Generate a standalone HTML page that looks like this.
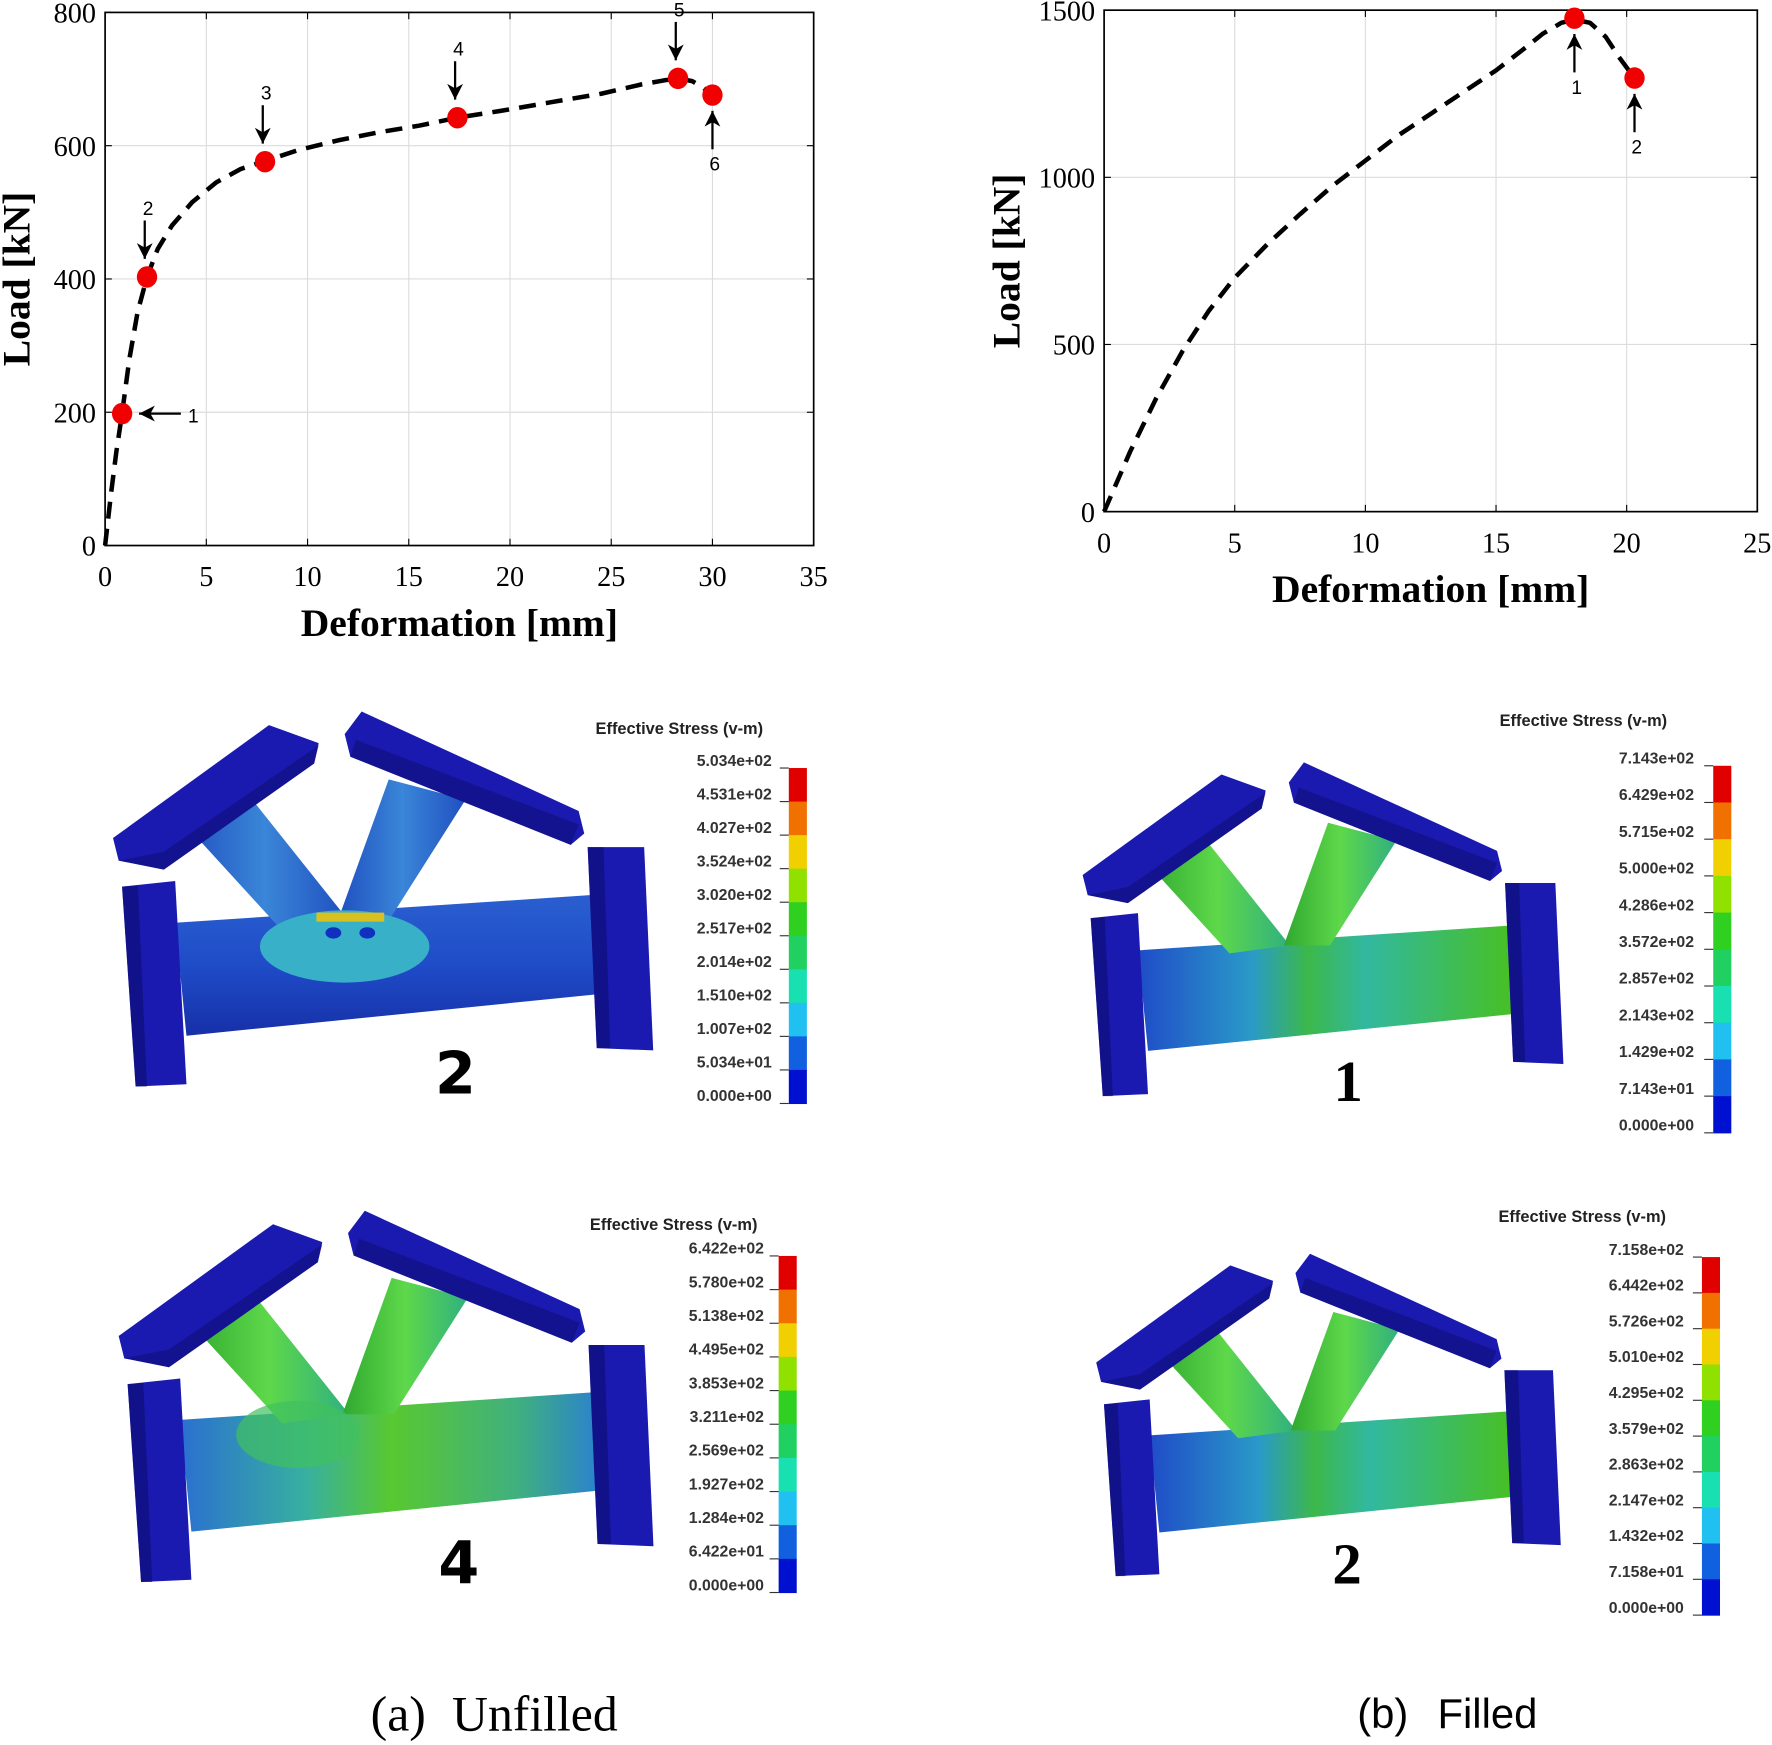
<!DOCTYPE html>
<html><head><meta charset="utf-8"><style>
html,body{margin:0;padding:0;background:#fff;}
svg{display:block;}
</style></head><body>
<svg id="root" width="1772" height="1745" viewBox="0 0 1568 1545" preserveAspectRatio="none" xmlns="http://www.w3.org/2000/svg">
<defs>
<linearGradient id="tubeA" x1="0" y1="0" x2="0" y2="1"><stop offset="0" stop-color="#2a5fd0"/><stop offset="0.5" stop-color="#1f4cc8"/><stop offset="1" stop-color="#1630a8"/></linearGradient>
<linearGradient id="braceA" x1="0" y1="0" x2="1" y2="0"><stop offset="0" stop-color="#2050c0"/><stop offset="0.5" stop-color="#3a86d8"/><stop offset="1" stop-color="#2050c0"/></linearGradient>
<linearGradient id="tubeB" x1="0" y1="0" x2="1" y2="0"><stop offset="0" stop-color="#1f4cc8"/><stop offset="0.3" stop-color="#2a9ac8"/><stop offset="0.45" stop-color="#3cb84a"/><stop offset="0.6" stop-color="#32b8a0"/><stop offset="1" stop-color="#48c020"/></linearGradient>
<linearGradient id="braceB" x1="0" y1="0" x2="1" y2="0"><stop offset="0" stop-color="#30a830"/><stop offset="0.5" stop-color="#5ed84a"/><stop offset="1" stop-color="#30b080"/></linearGradient>
<linearGradient id="tubeC" x1="0" y1="0" x2="1" y2="0"><stop offset="0" stop-color="#2a70d0"/><stop offset="0.3" stop-color="#38b0a0"/><stop offset="0.5" stop-color="#58c830"/><stop offset="0.8" stop-color="#40b080"/><stop offset="1" stop-color="#2a80d0"/></linearGradient>
</defs>
</svg>
<script>
// ===== Chart data =====
const leftX = [0, 0.3, 0.55, 0.84, 1.2, 1.6, 2.07, 2.6, 3.3, 4.3, 5.5, 6.7, 7.9, 9.5, 11.5, 13.5, 15.5, 17.4, 19.5, 22, 24.5, 26.5, 27.6, 28.3, 29.0, 29.5, 30.0];
const leftY = [0, 80, 140, 198, 280, 350, 403, 445, 480, 515, 545, 565, 577, 593, 608, 620, 630, 642, 652, 665, 678, 692, 698, 701, 697, 688, 676];
const leftMarkX = [0.84, 2.07, 7.9, 17.4, 28.3, 30.0];
const leftMarkY = [198, 403, 576, 642, 701, 676];
const leftMarkLabels = ["1","2","3","4","5","6"];
const leftXTicks = [0,5,10,15,20,25,30,35];
const leftYTicks = [0,200,400,600,800];

const rightX = [0, 1, 2, 3, 4, 5, 6.25, 7.5, 8.75, 10, 11.25, 12.5, 13.75, 15, 16, 16.8, 17.5, 18.0, 18.6, 19.2, 19.7, 20.3];
const rightY = [0, 180, 340, 480, 600, 700, 800, 890, 975, 1050, 1125, 1190, 1255, 1320, 1380, 1430, 1462, 1472, 1462, 1420, 1360, 1297];
const rightMarkX = [18.0, 20.3];
const rightMarkY = [1476, 1297];
const rightMarkLabels = ["1","2"];
const rightXTicks = [0,5,10,15,20,25];
const rightYTicks = [0,500,1000,1500];

// colorbar labels
const cbA = ["5.034e+02","4.531e+02","4.027e+02","3.524e+02","3.020e+02","2.517e+02","2.014e+02","1.510e+02","1.007e+02","5.034e+01","0.000e+00"];
const cbB = ["7.143e+02","6.429e+02","5.715e+02","5.000e+02","4.286e+02","3.572e+02","2.857e+02","2.143e+02","1.429e+02","7.143e+01","0.000e+00"];
const cbC = ["6.422e+02","5.780e+02","5.138e+02","4.495e+02","3.853e+02","3.211e+02","2.569e+02","1.927e+02","1.284e+02","6.422e+01","0.000e+00"];
const cbD = ["7.158e+02","6.442e+02","5.726e+02","5.010e+02","4.295e+02","3.579e+02","2.863e+02","2.147e+02","1.432e+02","7.158e+01","0.000e+00"];
const fringeColors = ["#e00000","#f07000","#f0d000","#90e000","#30d020","#20d060","#18e0b0","#20c0f0","#1060e0","#0010d0"];

const NS="http://www.w3.org/2000/svg";
const root=document.getElementById('root');
function mk(tag, attrs, parent){const e=document.createElementNS(NS,tag);for(const k in attrs)e.setAttribute(k,attrs[k]);(parent||root).appendChild(e);return e;}

function chart(cfg){
  const g=mk('g',{});
  
  
  const sx=v=>cfg.x0+(v-cfg.xmin)/(cfg.xmax-cfg.xmin)*(cfg.x1-cfg.x0);
  const sy=v=>cfg.y0-(v-cfg.ymin)/(cfg.ymax-cfg.ymin)*(cfg.y0-cfg.y1);
  cfg.xt.forEach(t=>{
    const l=mk('line',{x1:sx(t),x2:sx(t),y1:cfg.y1,y2:cfg.y0,stroke:'#dcdcdc','stroke-width':1},g);
    
    
    mk('line',{x1:sx(t),x2:sx(t),y1:cfg.y0,y2:cfg.y0-6,stroke:'#000','stroke-width':1},g);
    mk('line',{x1:sx(t),x2:sx(t),y1:cfg.y1,y2:cfg.y1+6,stroke:'#000','stroke-width':1},g);
    const tx=mk('text',{x:sx(t),y:cfg.y0+36,'text-anchor':'middle',style:'font-family:"Liberation Serif",serif;font-size:25px'},g);
    tx.textContent=t;
    
    
  });
  cfg.yt.forEach(t=>{
    const l=mk('line',{x1:cfg.x0,x2:cfg.x1,y1:sy(t),y2:sy(t),stroke:'#dcdcdc','stroke-width':1},g);
    
    
    mk('line',{x1:cfg.x0,x2:cfg.x0+6,y1:sy(t),y2:sy(t),stroke:'#000','stroke-width':1},g);
    mk('line',{x1:cfg.x1,x2:cfg.x1-6,y1:sy(t),y2:sy(t),stroke:'#000','stroke-width':1},g);
    const tx=mk('text',{x:cfg.x0-8,y:sy(t)+9,'text-anchor':'end',style:'font-family:"Liberation Serif",serif;font-size:25px'},g);
    tx.textContent=t;
    
    
  });
  const fr=mk('rect',{x:cfg.x0,y:cfg.y1,width:cfg.x1-cfg.x0,height:cfg.y0-cfg.y1,fill:'none',stroke:'#000','stroke-width':1.5},g);
  
  
  let d='';cfg.xs.forEach((x,i)=>{d+=(i?'L':'M')+sx(x).toFixed(1)+','+sy(cfg.ys[i]).toFixed(1);});
  const p=mk('path',{d:d,fill:'none',stroke:'#000','stroke-width':4,'stroke-dasharray':'15 9','stroke-linejoin':'round'},g);
  
  
  cfg.mx.forEach((x,i)=>{
    const cx=sx(x),cy=sy(cfg.my[i]);
    const c=mk('ellipse',{cx:cx,cy:cy,rx:9,ry:9.5,fill:'#f00000'},g);
    
    
    const dir=cfg.adir[i];
    let ax1,ay1,ax2,ay2,lx,ly;
    if(dir==='left'){ax1=cx+52;ay1=cy;ax2=cx+15;ay2=cy;lx=cx+63;ly=cy+8;}
    else if(dir==='down'){ax1=cx-2;ay1=cy-50;ax2=cx-2;ay2=cy-16;lx=cx+1;ly=cy-55;}
    else {ax1=cx;ay1=cy+48;ax2=cx;ay2=cy+14;lx=cx+2;ly=cy+67;}
    mk('line',{x1:ax1,y1:ay1,x2:ax2,y2:ay2,stroke:'#000','stroke-width':2},g);
    let pts;
    if(dir==='left')pts=`${ax2},${ay2} ${ax2+14},${ay2-7} ${ax2+10},${ay2} ${ax2+14},${ay2+7}`;
    else if(dir==='down')pts=`${ax2},${ay2} ${ax2-7},${ay2-14} ${ax2},${ay2-10} ${ax2+7},${ay2-14}`;
    else pts=`${ax2},${ay2} ${ax2-7},${ay2+14} ${ax2},${ay2+10} ${ax2+7},${ay2+14}`;
    const ar=mk('polygon',{points:pts,fill:'#000'},g);
    
    
    const t=mk('text',{x:lx,y:ly,'text-anchor':'middle',style:'font-family:"Liberation Sans",sans-serif;font-size:17px'},g);
    t.textContent=cfg.ml[i];
    
    
  });
  const xl=mk('text',{x:(cfg.x0+cfg.x1)/2,y:cfg.y0+80,'text-anchor':'middle',style:'font-family:"Liberation Serif",serif;font-weight:bold;font-size:35px'},g);
  xl.textContent='Deformation [mm]';
  
  
  const yl=mk('text',{x:0,y:0,'text-anchor':'middle',style:'font-family:"Liberation Serif",serif;font-weight:bold;font-size:35px',transform:`translate(${cfg.ylx},${(cfg.y0+cfg.y1)/2}) rotate(-90)`},g);
  yl.textContent='Load [kN]';
  
  
}
chart({name:'unfilled-load-chart',x0:93,x1:720,y0:483,y1:11,xmin:0,xmax:35,ymin:0,ymax:800,xt:leftXTicks,yt:leftYTicks,xs:leftX,ys:leftY,mx:leftMarkX,my:leftMarkY,ml:leftMarkLabels,adir:['left','down','down','down','down','up'],ylx:26});
chart({name:'filled-load-chart',x0:977,x1:1555,y0:453,y1:9,xmin:0,xmax:25,ymin:0,ymax:1500,xt:rightXTicks,yt:rightYTicks,xs:rightX,ys:rightY,mx:rightMarkX,my:rightMarkY,ml:rightMarkLabels,adir:['up','up'],ylx:902});

// ===== Joint renders =====
function joint(name, tx, ty, s, sch, num, numX, numY, numSans){
  const g=mk('g',{transform:`translate(${tx},${ty}) scale(${s})`});
  
  
  const plate='#1a1ab0', plateD='#0c0c70';
  const tube=mk('polygon',{points:'55,187 430,162 432,250 65,287',fill:sch.tube},g);
  
  
  const b1=mk('polygon',{points:'62,98 120,74 206,182 146,190',fill:sch.brace},g);
  
  
  const b2=mk('polygon',{points:'244,60 312,78 246,182 200,182',fill:sch.brace},g);
  
  
  if(sch.hot){mk('ellipse',{cx:205,cy:208,rx:75,ry:32,fill:sch.hot},g);
    mk('rect',{x:180,y:178,width:60,height:8,fill:'#d8c020'},g);
    mk('ellipse',{cx:195,cy:196,rx:7,ry:5,fill:'#1030c0'},g);mk('ellipse',{cx:225,cy:196,rx:7,ry:5,fill:'#1030c0'},g);}
  if(sch.patch){mk('ellipse',{cx:160,cy:200,rx:55,ry:30,fill:sch.patch,opacity:0.7},g);}
  const p1=mk('polygon',{points:'0,112 138,12 182,28 178,46 45,140 5,132',fill:plate},g);
  
  
  mk('polygon',{points:'5,132 45,140 178,46 182,30 45,124',fill:plateD,opacity:0.5},g);
  const p2=mk('polygon',{points:'205,20 220,0 412,88 417,108 405,118 210,40',fill:plate},g);
  
  
  mk('polygon',{points:'210,40 405,118 412,100 215,25',fill:plateD,opacity:0.5},g);
  const e1=mk('polygon',{points:'8,155 55,150 65,330 20,332',fill:plate},g);
  
  
  mk('polygon',{points:'8,155 22,154 30,332 20,332',fill:plateD,opacity:0.6},g);
  const e2=mk('polygon',{points:'420,120 470,120 478,300 428,298',fill:plate},g);
  
  
  mk('polygon',{points:'420,120 434,120 440,298 428,298',fill:plateD,opacity:0.6},g);
  const t=mk('text',{x:numX,y:numY,'text-anchor':'middle',style:(numSans?'font-family:"DejaVu Sans",sans-serif;':'font-family:"Liberation Serif",serif;')+'font-weight:bold;font-size:52px'});
  t.textContent=num;
  
  
}
joint('unfilled-joint-state-2',100,630,1,{tube:'url(#tubeA)',brace:'url(#braceA)',hot:'#38b0c8'},'2',403,968,true);
joint('filled-joint-state-1',958,675,0.89,{tube:'url(#tubeB)',brace:'url(#braceB)'},'1',1193,975,false);
joint('unfilled-joint-state-4',105,1072,0.99,{tube:'url(#tubeC)',brace:'url(#braceB)',patch:'#40c060'},'4',406,1402,true);
joint('filled-joint-state-2',970,1110,0.86,{tube:'url(#tubeB)',brace:'url(#braceB)'},'2',1192,1402,false);

// ===== Colorbars =====
function colorbar(name, labels, bx, top, bottom, titleX, titleY, labX){
  const g=mk('g',{});
  
  
  const tt=mk('text',{x:titleX,y:titleY,style:'font-family:"Liberation Sans",sans-serif;font-weight:bold;font-size:14.5px',fill:'#222'},g);
  tt.textContent='Effective Stress (v-m)';
  
  
  const n=fringeColors.length, h=(bottom-top)/n;
  fringeColors.forEach((c,i)=>{
    const r=mk('rect',{x:bx,y:top+i*h,width:16,height:h+0.5,fill:c},g);
    
    
  });
  labels.forEach((l,i)=>{
    const y=top+i*h;
    mk('line',{x1:bx-8,x2:bx,y1:y,y2:y,stroke:'#333','stroke-width':1},g);
    const t=mk('text',{x:labX,y:y-2,'text-anchor':'end',style:'font-family:"Liberation Sans",sans-serif;font-weight:bold;font-size:14px',fill:'#333'},g);
    t.textContent=l;
    
    
  });
}
colorbar('colorbar-unfilled-2',cbA,698,680,977,527,650,683);
colorbar('colorbar-filled-1',cbB,1516,678,1003,1327,643,1499);
colorbar('colorbar-unfilled-4',cbC,689,1112,1410,522,1089,676);
colorbar('colorbar-filled-2',cbD,1506,1113,1430,1326,1082,1490);

// captions
const c1=mk('text',{x:328,y:1532,style:'font-family:"Liberation Serif",serif;font-size:44px'});
c1.textContent='(a)';


const c1b=mk('text',{x:400,y:1532,style:'font-family:"Liberation Serif",serif;font-size:44px'});
c1b.textContent='Unfilled';


const c2=mk('text',{x:1201,y:1530,style:'font-family:"Liberation Sans",sans-serif;font-size:37px'});
c2.textContent='(b)';


const c2b=mk('text',{x:1272,y:1530,style:'font-family:"Liberation Sans",sans-serif;font-size:37px'});
c2b.textContent='Filled';


</script>
</body></html>
